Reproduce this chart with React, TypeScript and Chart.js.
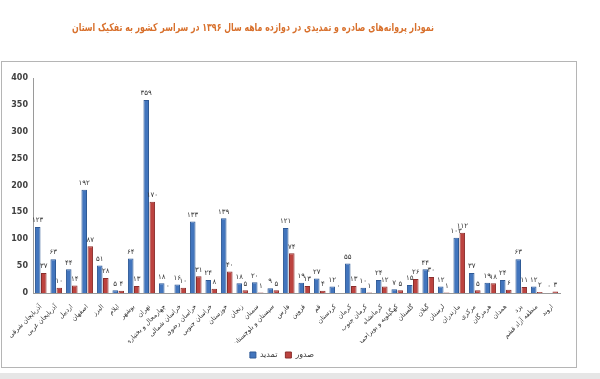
import React, { useEffect, useRef } from "react";
import { Chart, registerables } from "chart.js";

Chart.register(...registerables);

const chartTitle =
  "نمودار پروانه‌های صادره و تمدیدی در دوازده ماهه سال ۱۳۹۶ در سراسر کشور به تفکیک استان";

const provinces = [
  "آذربایجان شرقی",
  "آذربایجان غربی",
  "اردبیل",
  "اصفهان",
  "البرز",
  "ایلام",
  "بوشهر",
  "تهران",
  "چهارمحال و بختیاری",
  "خراسان شمالی",
  "خراسان رضوی",
  "خراسان جنوبی",
  "خوزستان",
  "زنجان",
  "سمنان",
  "سیستان و بلوچستان",
  "فارس",
  "قزوین",
  "قم",
  "کردستان",
  "کرمان",
  "کرمان جنوب",
  "کرمانشاه",
  "کهگیلویه و بویراحمد",
  "گلستان",
  "گیلان",
  "لرستان",
  "مازندران",
  "مرکزی",
  "هرمزگان",
  "همدان",
  "یزد",
  "منطقه آزاد قشم",
  "اروند",
];

// تمدید (renewed)
const renewed = [
  123, 63, 44, 192, 51, 5, 64, 359, 18, 16, 133, 24, 139, 18, 20, 9, 121, 19,
  27, 12, 55, 10, 24, 7, 15, 44, 12, 103, 37, 19, 24, 63, 12, 0,
];

// صدور (issued)
const issued = [
  37, 10, 14, 87, 28, 4, 13, 170, 0, 10, 31, 8, 40, 5, 1, 5, 74, 13, 4, 0, 13,
  1, 12, 5, 26, 30, 1, 112, 5, 18, 6, 11, 2, 3,
];

const seriesNames = ["تمدید", "صدور"];
const yMin = 0;
const yMax = 400;
const yStep = 50;

const toFa = (n: number) =>
  String(n).replace(/\d/g, (d) => "۰۱۲۳۴۵۶۷۸۹"[Number(d)]);

const framePlugin = {
  id: "frame",
  beforeDraw(chart: any) {
    const ctx = chart.ctx;
    ctx.save();
    ctx.fillStyle = "#ffffff";
    ctx.fillRect(0, 0, chart.width, chart.height);
    ctx.fillStyle = "#e6e6e6";
    ctx.fillRect(0, chart.height - 6, chart.width, 6);
    ctx.strokeStyle = "#b5b5b5";
    ctx.lineWidth = 1;
    ctx.strokeRect(1.5, 61.5, 575, 306);
    // title
    ctx.fillStyle = "#D8702C";
    ctx.font = 'bold 11px "DejaVu Sans"';
    ctx.textAlign = "center";
    ctx.textBaseline = "middle";
    ctx.fillText(chartTitle, 253, 28, 362);
    ctx.restore();
  },
};

const valueLabelPlugin = {
  id: "valueLabels",
  afterDatasetsDraw(chart: any) {
    const ctx = chart.ctx;
    ctx.save();
    ctx.font = '7px "DejaVu Sans"';
    ctx.fillStyle = "#333333";
    ctx.textAlign = "center";
    ctx.textBaseline = "bottom";
    chart.data.datasets.forEach((ds: any, i: number) => {
      const meta = chart.getDatasetMeta(i);
      meta.data.forEach((bar: any, j: number) => {
        ctx.fillText(toFa(ds.data[j]), bar.x, bar.y - 3);
      });
    });
    ctx.restore();
  },
};

export default function App() {
  const canvasRef = useRef<HTMLCanvasElement | null>(null);

  useEffect(() => {
    document.body.style.margin = "0";
    const canvas = canvasRef.current;
    if (!canvas) return;
    const chart = new Chart(canvas, {
      type: "bar",
      data: {
        labels: provinces,
        datasets: [
          {
            label: seriesNames[0],
            data: renewed,
            backgroundColor: "#4275BD",
            borderColor: "#2F5A96",
            borderWidth: 1,
            categoryPercentage: 0.78,
            barPercentage: 0.92,
          },
          {
            label: seriesNames[1],
            data: issued,
            backgroundColor: "#BC433F",
            borderColor: "#8A2E2C",
            borderWidth: 1,
            categoryPercentage: 0.78,
            barPercentage: 0.92,
          },
        ],
      },
      options: {
        responsive: false,
        animation: false,
        devicePixelRatio: 1,
        layout: { padding: { left: 4, right: 40, bottom: 10, top: 78 } },
        plugins: {
          title: { display: false },
          legend: {
            position: "bottom",
            labels: {
              boxWidth: 6,
              boxHeight: 6,
              color: "#333333",
              font: { size: 8, family: '"DejaVu Sans"' },
              padding: 8,
            },
          },
          tooltip: { enabled: false },
        },
        scales: {
          x: {
            grid: { display: false },
            border: { display: true, color: "#9a9a9a" },
            ticks: {
              autoSkip: false,
              maxRotation: 45,
              minRotation: 45,
              color: "#333333",
              font: { size: 6.5, family: '"DejaVu Sans"' },
              padding: 2,
            },
            afterFit: (s: any) => {
              s.height = 50;
            },
          },
          y: {
            min: yMin,
            max: yMax,
            grid: { display: false, drawTicks: false },
            border: { display: true, color: "#9a9a9a" },
            ticks: {
              stepSize: yStep,
              color: "#404040",
              font: { size: 8, weight: "bold", family: '"DejaVu Sans"' },
              padding: 5,
            },
            afterFit: (s: any) => {
              s.width = 29;
            },
          },
        },
      },
      plugins: [framePlugin, valueLabelPlugin],
    });
    return () => chart.destroy();
  }, []);

  return <canvas ref={canvasRef} width={600} height={379} />;
}
